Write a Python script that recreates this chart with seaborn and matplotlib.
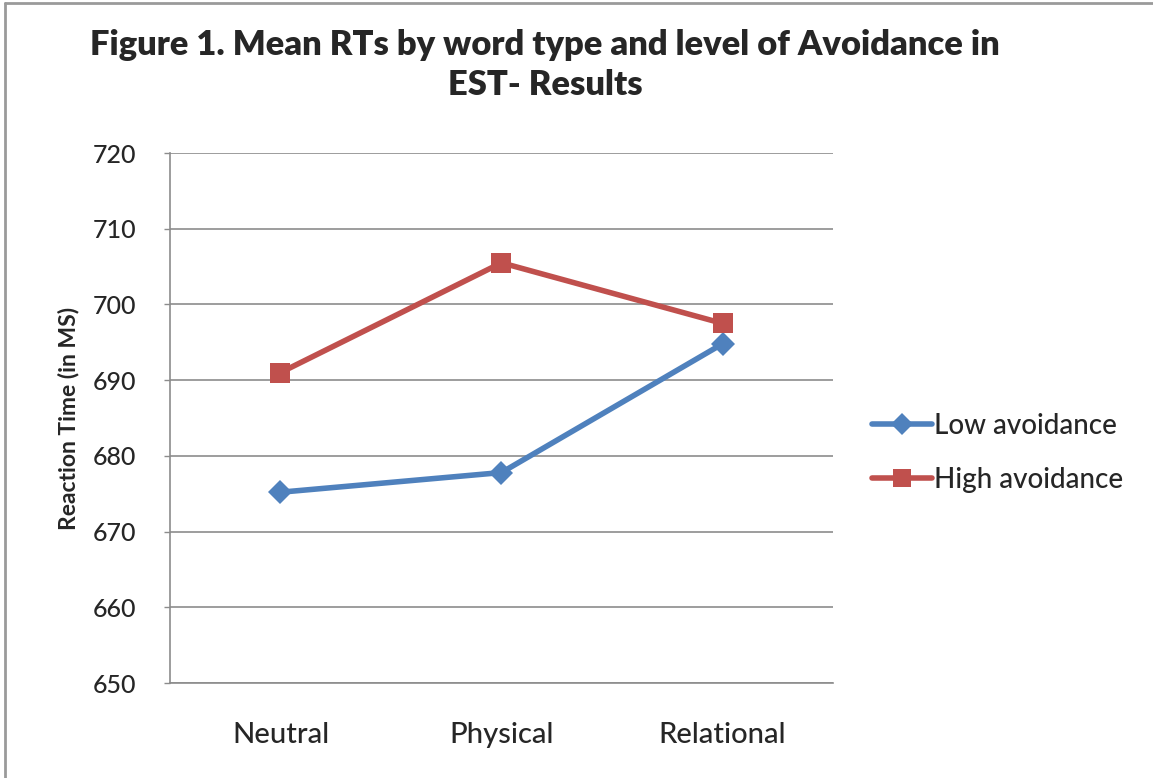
import matplotlib
matplotlib.use("Agg")
import matplotlib.pyplot as plt
import matplotlib.lines as mlines
import seaborn as sns
import pandas as pd

# Mean reaction times (ms) by word type for each avoidance group
word_types = ["Neutral", "Physical", "Relational"]
low_avoidance = [675.2, 677.8, 694.8]
high_avoidance = [691.0, 705.5, 697.5]
groups = ["Low avoidance", "High avoidance"]
y_ticks = [650, 660, 670, 680, 690, 700, 710, 720]

df = pd.DataFrame({
    "Word type": word_types * 2,
    "RT": low_avoidance + high_avoidance,
    "Group": [groups[0]] * 3 + [groups[1]] * 3,
})

sns.set_theme(style="white")
plt.rcParams["font.family"] = ["Lato", "DejaVu Sans"]

palette = {"Low avoidance": "#4F81BD", "High avoidance": "#C0504D"}
markers = {"Low avoidance": "D", "High avoidance": "s"}
marker_sizes = {"Low avoidance": 12, "High avoidance": 14}

fig = plt.figure(figsize=(11.53, 7.78), dpi=100)
ax = fig.add_axes([0.1474, 0.1221, 0.5751, 0.6812])

sns.lineplot(data=df, x="Word type", y="RT", hue="Group", style="Group",
             markers=markers, dashes=False, palette=palette, linewidth=4,
             markersize=13, markeredgewidth=0, ax=ax, legend=False, sort=False)
for line, g in zip(ax.get_lines(), groups):
    line.set_markersize(marker_sizes[g])

ax.set_xlim(-0.5, 2.5)
ax.set_ylim(650, 720)
ax.set_yticks(y_ticks)
ax.set_yticklabels([str(t) for t in y_ticks], fontsize=18, fontweight="medium")
ax.set_xticks(range(len(word_types)))
ax.set_xticklabels(word_types, fontsize=21, fontweight="medium")
ax.tick_params(axis="x", length=0, pad=28)
ax.tick_params(axis="y", length=4, width=1, color="#8c8c8c", pad=20, left=True)
ax.yaxis.grid(True, color="#8c8c8c", linewidth=1.2)
ax.set_axisbelow(True)
ax.set_xlabel("")
ax.set_ylabel("Reaction Time (in MS)", fontsize=16.5, fontweight="bold", labelpad=10)

for side in ("top", "right"):
    ax.spines[side].set_visible(False)
for side in ("left", "bottom"):
    ax.spines[side].set_color("#8c8c8c")
    ax.spines[side].set_linewidth(1.2)

handles = [
    mlines.Line2D([], [], color=palette[g], marker=markers[g], linewidth=4,
                  markersize=marker_sizes[g] - 1, markeredgewidth=0, label=g)
    for g in groups
]
leg = fig.legend(handles=handles, loc="center left", bbox_to_anchor=(0.735, 0.4177),
                 frameon=False, fontsize=20, handlelength=2.15, handletextpad=0.05,
                 labelspacing=1.0)
for t in leg.get_texts():
    t.set_fontweight("medium")

title_kw = dict(ha="center", va="center", fontsize=24.8, fontweight="heavy")
fig.text(0.473, 0.942, "Figure 1. Mean RTs by word type and level of Avoidance in", **title_kw)
fig.text(0.473, 0.891, "EST- Results", **title_kw)

# chart-area border along the top and left edges
fig.add_artist(mlines.Line2D([0.004, 1.0], [0.996, 0.996], color="#9a9a9a",
                             linewidth=2, transform=fig.transFigure))
fig.add_artist(mlines.Line2D([0.004, 0.004], [0.0, 0.996], color="#9a9a9a",
                             linewidth=2, transform=fig.transFigure))

fig.savefig("out.png", dpi=100)
